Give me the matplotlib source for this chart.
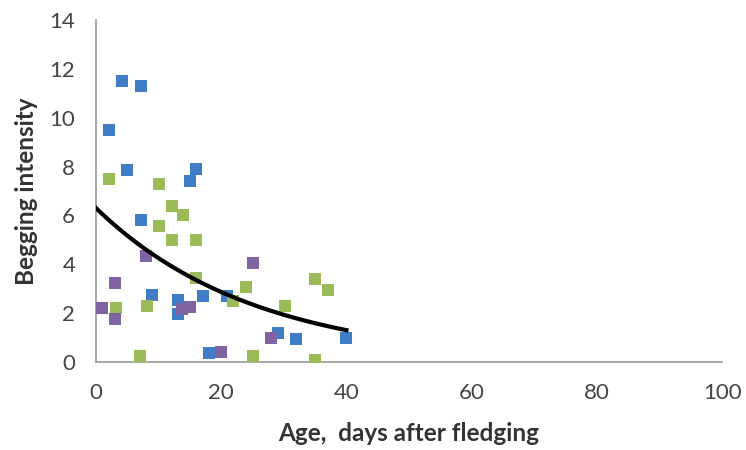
import numpy as np
import matplotlib
matplotlib.use('Agg')
import matplotlib.pyplot as plt

# blue series
blue_x = [2, 4.2, 7.2, 5, 7.2, 9, 15, 16, 13.1, 13.1, 17.1, 18, 21, 29, 32, 40]
blue_y = [9.5, 11.5, 11.3, 7.85, 5.8, 2.75, 7.4, 7.9, 2.55, 1.95, 2.7, 0.35, 2.7, 1.2, 0.95, 1.0]

# green series
green_x = [2, 3.2, 7, 8.1, 10, 10, 12.1, 13.9, 12.1, 16, 16, 21.9, 24, 25, 30.2, 35, 37, 35]
green_y = [7.5, 2.2, 0.25, 2.3, 7.3, 5.55, 6.4, 6.0, 5.0, 5.0, 3.45, 2.5, 3.05, 0.25, 2.3, 3.4, 2.95, 0.1]

# purple series
purple_x = [1, 3, 3, 8, 13.7, 15, 20, 25, 28]
purple_y = [2.2, 3.25, 1.75, 4.35, 2.15, 2.25, 0.4, 4.05, 1.0]

# exponential trendline coefficients (y = a*exp(-k*x)), drawn over 0..40
trend_a = 6.3
trend_k = 0.0394

plt.rcParams['font.family'] = ['Lato', 'DejaVu Sans']

fig = plt.figure(figsize=(7.46, 4.5), dpi=100)
ax = fig.add_axes([0.1287, 0.1956, 0.8393, 0.76])

ax.scatter(blue_x, blue_y, marker='s', s=80, color='#3f7dc8', zorder=3, linewidths=0)
ax.scatter(green_x, green_y, marker='s', s=80, color='#9bbb59', zorder=3, linewidths=0)
ax.scatter(purple_x, purple_y, marker='s', s=80, color='#8064a2', zorder=3, linewidths=0)

tx = np.linspace(0, 40, 100)
ax.plot(tx, trend_a * np.exp(-trend_k * tx), color='black', lw=3, zorder=4)

ax.set_xlim(0, 100)
ax.set_ylim(0, 14)
ax.set_xticks(range(0, 101, 20))
ax.set_yticks(range(0, 15, 2))
ax.tick_params(length=0, labelsize=16, colors='#444444')
ax.tick_params(axis='x', pad=15)
ax.tick_params(axis='y', pad=15)
for s in ['top', 'right']:
    ax.spines[s].set_visible(False)
for s in ['left', 'bottom']:
    ax.spines[s].set_color('#999999')
    ax.spines[s].set_linewidth(1.2)

ax.set_xlabel('Age,  days after fledging', fontsize=17.5, fontweight='bold', color='#333333', labelpad=14)
ax.set_ylabel('Begging intensity', fontsize=17.5, fontweight='bold', color='#333333', labelpad=8)

plt.savefig('out.png')
